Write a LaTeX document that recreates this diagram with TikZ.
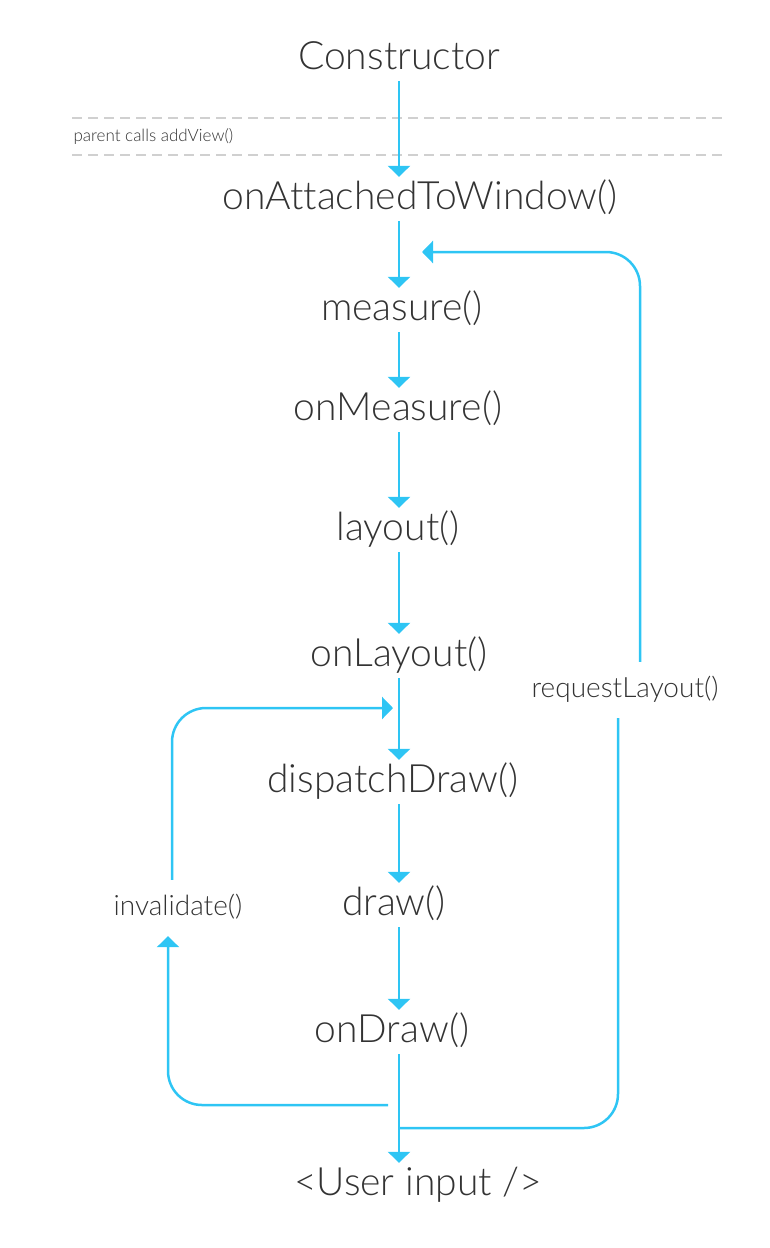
\documentclass[tikz,border=0pt]{standalone}
\usepackage{fontspec}
\setmainfont{Lato Light}[Ligatures=NoCommon]
\usepackage{tikz}
\usetikzlibrary{arrows.meta,positioning,calc}
\definecolor{accent}{HTML}{2EC5F4}
\definecolor{darktext}{HTML}{333333}
\definecolor{rulegray}{HTML}{D0D0D0}

\begin{document}
\begin{tikzpicture}[x=1pt, y=-1pt,
  call/.style={font=\fontsize{39}{44}\selectfont, text=darktext, inner sep=0pt,
               text height=29pt, text depth=9pt, minimum height=44pt},
  hook/.style={font=\fontsize{28}{32}\selectfont, text=darktext, inner sep=0pt,
               text height=20pt, text depth=6pt, minimum height=56pt},
  flow/.style={-{Triangle[width=22pt,length=11pt]}, line width=2.5pt, color=accent},
  loopback/.style={line width=2.5pt, color=accent, rounded corners=34pt},
]
  \useasboundingbox (0,0) rectangle (770,1248);

  % window attach boundary
  \draw[rulegray, line width=1.5pt, dash pattern=on 10pt off 6pt]
    (72,118) -- (727,118) (72,155) -- (727,155);
  \node[anchor=west, font=\fontsize{17}{20}\selectfont, text=darktext] (parent) at (70,137) {parent calls addView()};

  % lifecycle calls
  \node[call] (ctor)     at (399,59)   {Constructor};
  \node[call] (attach)   at (420,199)  {onAttachedToWindow()};
  \node[call] (measure)  at (402,310)  {measure()};
  \node[call] (onmeas)   at (398,410)  {onMeasure()};
  \node[call] (layout)   at (398,530)  {layout()};
  \node[call] (onlay)    at (399,656)  {onLayout()};
  \node[call] (dispatch) at (393,782)  {dispatchDraw()};
  \node[call] (draw)     at (394,905)  {draw()};
  \node[call] (ondraw)   at (392,1032) {onDraw()};
  \node[call] (input)    at (418,1185) {<User input />};

  \foreach \a/\b in {ctor/attach, attach/measure, measure/onmeas, onmeas/layout,
                     layout/onlay, onlay/dispatch, dispatch/draw, draw/ondraw, ondraw/input}
    \draw[flow] (\a.south -| ctor) -- (\b.north -| ctor);

  % redraw and relayout loops
  \node[hook] (inval)  at (178,908) {invalidate()};
  \node[hook] (reqlay) at (625,690) {requestLayout()};
  \coordinate (inv0) at (388,1105);
  \coordinate (inv1) at (393,708);
  \coordinate (rl0)  at (400,1128);
  \coordinate (rl1)  at (422,252);

  \draw[loopback, flow] (inv0) -| ([xshift=-10pt]inval.south);
  \draw[loopback, flow] ([xshift=-6pt]inval.north) |- (inv1);
  \draw[loopback] (rl0) -| ([xshift=-7pt]reqlay.south);
  \draw[loopback, flow] ([xshift=15pt]reqlay.north) |- (rl1);
\end{tikzpicture}
\end{document}
